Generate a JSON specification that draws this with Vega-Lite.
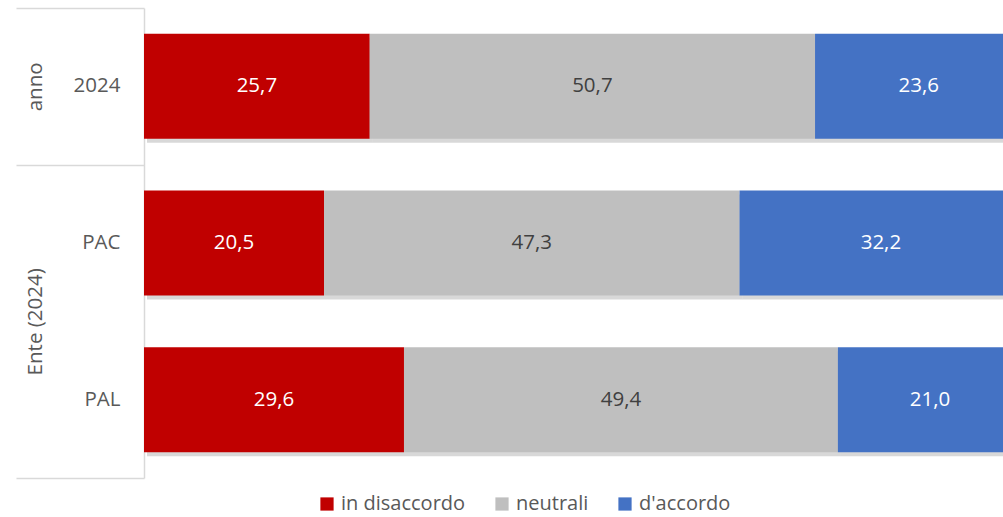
{
  "$schema": "https://vega.github.io/schema/vega-lite/v6.json",
  "width": 859,
  "height": 470,
  "autosize": {"type": "none"},
  "padding": {"left": 144, "top": 8, "right": 0, "bottom": 39},
  "background": "white",
  "config": {
    "view": {"stroke": null},
    "font": "Open Sans",
    "locale": {"number": {"decimal": ",", "thousands": ".", "grouping": [3], "currency": ["", " €"]}}
  },
  "datasets": {
    "risposte": [
      {"cat": "2024", "risposta": "in disaccordo", "n": 1, "valore": 25.7},
      {"cat": "2024", "risposta": "neutrali", "n": 2, "valore": 50.7},
      {"cat": "2024", "risposta": "d'accordo", "n": 3, "valore": 23.6},
      {"cat": "PAC", "risposta": "in disaccordo", "n": 1, "valore": 20.5},
      {"cat": "PAC", "risposta": "neutrali", "n": 2, "valore": 47.3},
      {"cat": "PAC", "risposta": "d'accordo", "n": 3, "valore": 32.2},
      {"cat": "PAL", "risposta": "in disaccordo", "n": 1, "valore": 29.6},
      {"cat": "PAL", "risposta": "neutrali", "n": 2, "valore": 49.4},
      {"cat": "PAL", "risposta": "d'accordo", "n": 3, "valore": 21.0}
    ],
    "gruppi": [
      {"gruppo": "anno", "ordine": 1, "righe": 1},
      {"gruppo": "Ente (2024)", "ordine": 2, "righe": 2}
    ]
  },
  "layer": [
    {
      "data": {"name": "risposte"},
      "mark": {"type": "bar", "clip": true, "color": "#7f7f7f", "opacity": 0.3, "xOffset": 3, "yOffset": 4},
      "encoding": {
        "y": {"field": "cat", "type": "nominal", "axis": null,
              "scale": {"paddingInner": 0.33, "paddingOuter": 0.165}},
        "x": {"field": "valore", "type": "quantitative", "stack": "zero",
              "scale": {"domain": [0, 97.8], "nice": false, "clamp": true}, "axis": null},
        "order": {"field": "n"}
      }
    },
    {
      "data": {"name": "risposte"},
      "mark": {"type": "bar", "clip": true},
      "encoding": {
        "y": {"field": "cat", "type": "nominal", "title": null,
              "scale": {"paddingInner": 0.33, "paddingOuter": 0.165},
              "axis": {"orient": "left", "ticks": false, "domain": true, "domainColor": "#d9d9d9", "domainWidth": 1.5,
                       "labelFontSize": 20.5, "labelColor": "#595959", "labelPadding": 24, "labelAlign": "right"}},
        "x": {"field": "valore", "type": "quantitative", "stack": "zero",
              "scale": {"domain": [0, 97.8], "nice": false, "clamp": true},
              "axis": {"values": [20, 40, 60, 80], "grid": true, "gridColor": "#d9d9d9", "gridWidth": 1.5,
                       "labels": false, "ticks": false, "domain": false, "title": null}},
        "color": {"field": "risposta", "type": "nominal",
                  "scale": {"domain": ["in disaccordo", "neutrali", "d'accordo"], "range": ["#c00000", "#bfbfbf", "#4472c4"]},
                  "legend": {"title": null, "orient": "none", "direction": "horizontal", "legendX": 173, "legendY": 486,
                             "symbolType": "square", "symbolSize": 175, "symbolStrokeWidth": 0, "symbolOpacity": 1,
                             "labelFontSize": 20, "labelColor": "#595959", "labelOffset": 4, "columnPadding": 26, "padding": 0}},
        "order": {"field": "n"}
      }
    },
    {
      "data": {"name": "risposte"},
      "mark": {"type": "text", "fontSize": 20.5, "align": "center", "baseline": "middle"},
      "encoding": {
        "y": {"field": "cat", "type": "nominal", "axis": null,
              "scale": {"paddingInner": 0.33, "paddingOuter": 0.165}},
        "x": {"field": "valore", "type": "quantitative", "stack": "zero", "bandPosition": 0.5,
              "scale": {"domain": [0, 97.8], "nice": false, "clamp": true}},
        "order": {"field": "n"},
        "text": {"field": "valore", "type": "quantitative", "format": ".1f"},
        "color": {"condition": {"test": "datum.risposta === 'neutrali'", "value": "#404040"}, "value": "#ffffff"}
      }
    },
    {
      "data": {"name": "gruppi"},
      "mark": {"type": "bar", "opacity": 0},
      "encoding": {
        "y": {"field": "righe", "type": "quantitative", "stack": "zero",
              "scale": {"domain": [0, 3], "reverse": true, "nice": false},
              "axis": {"orient": "left", "values": [0, 1, 3], "labels": false, "grid": false, "domain": false,
                       "ticks": true, "tickSize": 128, "tickColor": "#d9d9d9", "tickWidth": 1.5, "title": null}},
        "order": {"field": "ordine"}
      }
    },
    {
      "data": {"name": "gruppi"},
      "mark": {"type": "bar", "opacity": 0},
      "encoding": {
        "y": {"field": "righe", "type": "quantitative", "stack": "zero",
              "scale": {"domain": [0, 3], "reverse": true, "nice": false},
              "axis": {"orient": "left", "values": [0.5, 2], "labelExpr": "datum.value < 1 ? 'anno' : 'Ente (2024)'",
                       "labelAngle": 270, "labelAlign": "center", "labelBaseline": "middle", "labelPadding": 109,
                       "labelFontSize": 20.5, "labelColor": "#595959", "labelFlush": false, "labelOverlap": false,
                       "grid": false, "domain": false, "ticks": false, "title": null}},
        "order": {"field": "ordine"}
      }
    }
  ],
  "resolve": {"scale": {"y": "independent"}, "axis": {"y": "independent"}}
}
